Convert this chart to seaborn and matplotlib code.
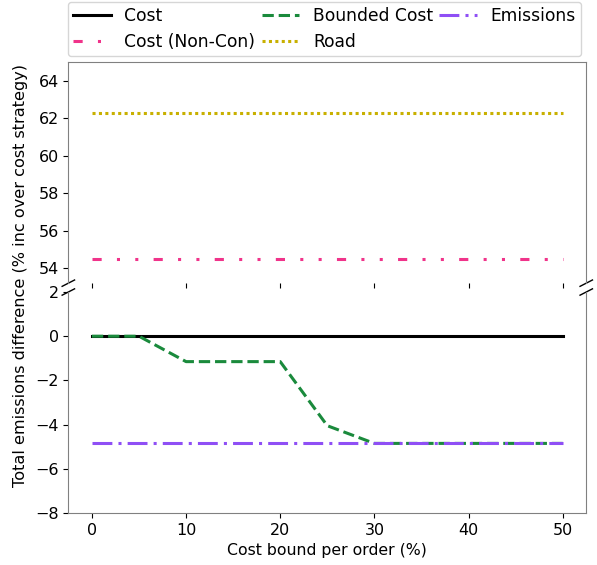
import numpy as np
import pandas as pd
import seaborn as sns
import matplotlib
matplotlib.use("Agg")
import matplotlib.pyplot as plt

plt.rcParams['font.family'] = ['DejaVu Sans']

x_bound = [0, 5, 10, 15, 20, 25, 30, 35, 40, 45, 50]
cost = [0, 0, 0, 0, 0, 0, 0, 0, 0, 0, 0]
cost_noncon = [54.5] * 11
bounded_cost = [0, 0, -1.15, -1.15, -1.15, -4.05, -4.85, -4.85, -4.85, -4.85, -4.85]
road = [62.3] * 11
emissions = [-4.85] * 11

series = [
    ("Cost", cost, "#000000", (None, None)),
    ("Cost (Non-Con)", cost_noncon, "#f0338a", (3, 5, 1, 5, 1, 5)),
    ("Bounded Cost", bounded_cost, "#1a8a3c", (3.7, 1.6)),
    ("Road", road, "#c8b000", (1, 1.1)),
    ("Emissions", emissions, "#8f4ff5", (6.5, 2, 1, 2)),
]

fig = plt.figure(figsize=(5.97, 5.65), dpi=100)
gs = fig.add_gridspec(2, 1, left=0.1145, right=0.982, top=0.89, bottom=0.092, hspace=0.04)
ax_top = fig.add_subplot(gs[0])
ax_bot = fig.add_subplot(gs[1], sharex=ax_top)

handles = []
for name, vals, color, dash in series:
    df = pd.DataFrame({"x": x_bound, "y": vals})
    for ax in (ax_top, ax_bot):
        sns.lineplot(data=df, x="x", y="y", ax=ax, color=color, linewidth=2.2, label=None)
        ln = ax.lines[-1]
        if dash[0] is not None:
            ln.set_dashes(dash)
    handles.append(ax_top.lines[-1])

ax_top.set_ylim(53.2, 65)
ax_bot.set_ylim(-8, 2)
ax_top.set_xlim(-2.5, 52.5)
ax_top.set_yticks([54, 56, 58, 60, 62, 64])
ax_bot.set_yticks([-8, -6, -4, -2, 0, 2])
ax_bot.set_xticks([0, 10, 20, 30, 40, 50])

for ax in (ax_top, ax_bot):
    ax.set_xlabel("")
    ax.set_ylabel("")
    for s in ax.spines.values():
        s.set_color("#808080")
    ax.tick_params(labelsize=11.5)

ax_top.spines['bottom'].set_visible(False)
ax_bot.spines['top'].set_visible(False)
ax_top.tick_params(axis='x', labelbottom=False, length=3.5)

ax_bot.set_xlabel("Cost bound per order (%)", fontsize=11.3)
fig.text(0.034, 0.513, "Total emissions difference (% inc over cost strategy)",
         rotation=90, va='center', ha='center', fontsize=11.6)

# break marks
d = 0.012
kw = dict(color='k', clip_on=False, linewidth=1)
ax_top.plot((-d, +d), (-d * 1.2, +d * 1.2), transform=ax_top.transAxes, **kw)
ax_top.plot((1 - d, 1 + d), (-d * 1.2, +d * 1.2), transform=ax_top.transAxes, **kw)
ax_bot.plot((-d, +d), (1 - d * 1.2, 1 + d * 1.2), transform=ax_bot.transAxes, **kw)
ax_bot.plot((1 - d, 1 + d), (1 - d * 1.2, 1 + d * 1.2), transform=ax_bot.transAxes, **kw)

labels = [s[0] for s in series]
fig.legend(handles, labels, ncol=3, loc='upper left', bbox_to_anchor=(0.114, 0.997),
           borderaxespad=0, fontsize=12.3, frameon=True, handlelength=2.2, columnspacing=0.37,
           borderpad=0.3, labelspacing=0.47, handletextpad=0.8)

fig.savefig("out.png", dpi=100)
